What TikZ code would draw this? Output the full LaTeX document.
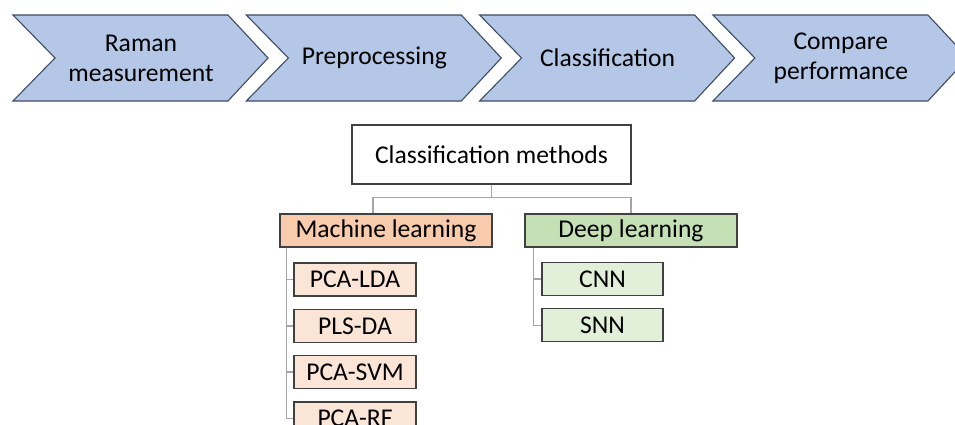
\documentclass[tikz,border=0pt]{standalone}
\usepackage{xcolor}
\usepackage{fontspec}
\setmainfont{Carlito}
\usepackage{tikz}
\usetikzlibrary{arrows,positioning}
\definecolor{chevfill}{HTML}{B4C7E7}
\definecolor{chevline}{HTML}{3E4C66}
\definecolor{mlfill}{HTML}{F8CBAD}
\definecolor{mlsub}{HTML}{FBE5D6}
\definecolor{dlfill}{HTML}{C5E0B4}
\definecolor{dlsub}{HTML}{E2F0D9}
\definecolor{boxline}{HTML}{404040}
\definecolor{linkgray}{HTML}{A5A5A5}
\tikzstyle{chev_t} = [align=center, inner sep=0pt, font=\fontsize{25.6}{30}\selectfont]
\tikzstyle{chev_p} = [fill=chevfill, draw=chevline, line width=1.1pt, line join=miter]
\tikzstyle{cls_root} = [rectangle, draw=boxline, line width=1.3pt, fill=white, minimum width=279pt, minimum height=59pt, inner sep=0pt, font=\fontsize{25.6}{30}\selectfont]
\tikzstyle{cls_ml} = [rectangle, draw=boxline, line width=1.3pt, fill=mlfill, minimum width=212pt, minimum height=33pt, inner sep=0pt, font=\fontsize{25.6}{30}\selectfont]
\tikzstyle{cls_dl} = [cls_ml, fill=dlfill]
\tikzstyle{sub_ml} = [rectangle, draw=boxline, line width=1.3pt, fill=mlsub, minimum width=122pt, minimum height=33pt, inner sep=0pt, font=\fontsize{25.6}{30}\selectfont]
\tikzstyle{sub_dl} = [sub_ml, fill=dlsub, minimum width=121pt]
\tikzstyle{link} = [draw=linkgray, line width=1.4pt]

\begin{document}
\begin{tikzpicture}[x=1pt,y=-1pt]
\clip (0,0) rectangle (955,425);
\useasboundingbox (0,0) rectangle (955,425);

% process chevrons
\foreach \i/\txt in {0/{Raman\\measurement},1/Preprocessing,2/Classification,3/{Compare\\performance}}{
    \pgfmathsetmacro{\l}{13+233.3*\i}
    \draw[chev_p] (\l,15) -- ++(215,0) -- ++(40,43) -- ++(-40,43) -- ++(-215,0) -- ++(42,-43) -- cycle;
    \node [chev_t] (ph\i) at (\l+128,58) {\txt};
}

% hierarchy
\node [cls_root] (root) at (491.5,154.5) {Classification methods};
\node [cls_ml] (ml) at (386,230.5) {Machine learning};
\node [cls_dl] (dl) at (631,230.5) {Deep learning};

\node [sub_ml] (pcalda) at (355,279.5) {PCA-LDA};
\node [sub_ml, below=12pt of pcalda] (plsda) {PLS-DA};
\node [sub_ml, below=12pt of plsda] (pcasvm) {PCA-SVM};
\node [sub_ml, below=12pt of pcasvm] (pcarf) {PCA-RF};

\node [sub_dl] (cnn) at (602.5,279) {CNN};
\node [sub_dl, below=12pt of cnn] (snn) {SNN};

\coordinate (mltop) at ([xshift=-13pt]ml.north);
\coordinate (mlrail) at ([xshift=7pt]ml.south west);
\coordinate (dlrail) at ([xshift=9pt]dl.south west);

\draw [link] (root.south) -- ++(0,13) -| (mltop);
\draw [link] (root.south) -- ++(0,13) -| (dl.north);
\foreach \n in {pcalda,plsda,pcasvm,pcarf}
    \draw [link] (mlrail) |- (\n.west);
\foreach \n in {cnn,snn}
    \draw [link] (dlrail) |- (\n.west);
\end{tikzpicture}
\end{document}
